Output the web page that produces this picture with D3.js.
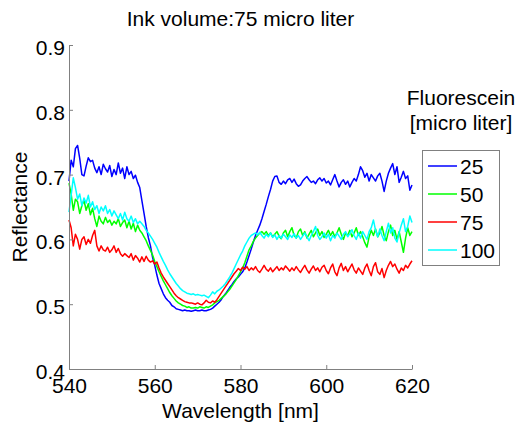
<!DOCTYPE html>
<html>
<head>
<meta charset="utf-8">
<script src="https://cdn.jsdelivr.net/npm/d3@7"></script>
<style>
  html, body { margin: 0; padding: 0; background: #fff; }
  svg { display: block; }
  text { font-family: "Liberation Sans", Arial, Helvetica, sans-serif; }
</style>
</head>
<body>
<svg id="chart" width="519" height="429"></svg>
<script>
// ---------------- DATA ----------------
const title = "Ink volume:75 micro liter";
const xLabel = "Wavelength [nm]";
const yLabel = "Reflectance";
const legendTitle = ["Fluorescein", "[micro liter]"];
const seriesNames = ["25", "50", "75", "100"];
const seriesColors = ["#0000ff", "#00ff00", "#ff0000", "#00ffff"];
const xTicks = [540, 560, 580, 600, 620];
const yTicks = [0.4, 0.5, 0.6, 0.7, 0.8, 0.9];
// wavelengths 540..620 nm, step 0.5 nm
const wavelength = d3.range(0, 161).map(i => 540 + i * 0.5);

const series25 = [
0.690,0.722,0.712,0.740,0.745,0.725,0.700,0.698,0.713,0.726,
0.720,0.722,0.710,0.703,0.712,0.700,0.716,0.709,0.704,0.714,
0.697,0.708,0.700,0.718,0.702,0.710,0.694,0.712,0.700,0.705,
0.694,0.699,0.688,0.680,0.660,0.640,0.620,0.603,0.590,0.572,
0.560,0.545,0.532,0.524,0.516,0.510,0.506,0.503,0.498,0.496,
0.493,0.492,0.491,0.490,0.491,0.490,0.490,0.489,0.490,0.491,
0.490,0.490,0.491,0.490,0.490,0.491,0.492,0.494,0.497,0.500,
0.503,0.507,0.512,0.516,0.521,0.526,0.530,0.535,0.539,0.542,
0.546,0.550,0.556,0.565,0.575,0.585,0.596,0.606,0.614,0.622,
0.632,0.643,0.654,0.666,0.677,0.690,0.697,0.698,0.688,0.685,
0.690,0.686,0.692,0.694,0.688,0.693,0.686,0.682,0.684,0.690,
0.694,0.697,0.692,0.688,0.690,0.686,0.692,0.695,0.690,0.694,
0.687,0.690,0.684,0.692,0.700,0.690,0.681,0.688,0.692,0.685,
0.690,0.681,0.688,0.694,0.690,0.700,0.712,0.706,0.696,0.702,
0.690,0.700,0.695,0.690,0.698,0.702,0.690,0.674,0.690,0.702,
0.710,0.717,0.700,0.712,0.688,0.696,0.705,0.694,0.698,0.676,
0.684];

const series50 = [
0.687,0.670,0.645,0.662,0.658,0.640,0.652,0.660,0.645,0.655,
0.638,0.648,0.632,0.620,0.636,0.628,0.624,0.634,0.626,0.630,
0.622,0.628,0.624,0.632,0.620,0.626,0.630,0.618,0.628,0.616,
0.625,0.612,0.622,0.614,0.610,0.604,0.598,0.590,0.583,0.576,
0.566,0.558,0.550,0.543,0.536,0.530,0.524,0.518,0.513,0.509,
0.505,0.502,0.500,0.498,0.497,0.495,0.496,0.494,0.494,0.495,
0.494,0.496,0.495,0.494,0.496,0.495,0.497,0.499,0.502,0.504,
0.506,0.509,0.512,0.515,0.519,0.523,0.528,0.533,0.538,0.544,
0.550,0.556,0.564,0.574,0.584,0.590,0.597,0.602,0.606,0.610,
0.612,0.608,0.612,0.606,0.610,0.604,0.608,0.612,0.605,0.601,
0.610,0.614,0.604,0.612,0.618,0.606,0.602,0.612,0.616,0.606,
0.612,0.602,0.608,0.614,0.604,0.610,0.616,0.606,0.612,0.603,
0.608,0.614,0.606,0.612,0.604,0.610,0.618,0.608,0.600,0.610,
0.606,0.614,0.604,0.610,0.618,0.606,0.612,0.604,0.595,0.588,
0.604,0.614,0.606,0.616,0.604,0.610,0.620,0.606,0.598,0.612,
0.622,0.606,0.614,0.600,0.612,0.596,0.580,0.602,0.618,0.606,
0.612];

const series75 = [
0.630,0.618,0.590,0.608,0.600,0.585,0.600,0.604,0.592,0.600,
0.594,0.606,0.614,0.590,0.582,0.590,0.584,0.582,0.588,0.580,
0.584,0.590,0.580,0.586,0.578,0.574,0.578,0.575,0.572,0.578,
0.568,0.575,0.571,0.565,0.573,0.566,0.574,0.568,0.565,0.567,
0.562,0.565,0.556,0.548,0.542,0.537,0.532,0.527,0.522,0.517,
0.513,0.510,0.508,0.506,0.504,0.503,0.502,0.502,0.501,0.500,
0.502,0.500,0.499,0.502,0.506,0.503,0.502,0.505,0.503,0.507,
0.512,0.517,0.522,0.527,0.532,0.537,0.542,0.547,0.551,0.555,
0.552,0.557,0.554,0.558,0.552,0.556,0.553,0.558,0.552,0.549,
0.554,0.560,0.554,0.551,0.556,0.550,0.554,0.558,0.552,0.556,
0.553,0.559,0.555,0.551,0.556,0.552,0.558,0.553,0.549,0.555,
0.560,0.553,0.548,0.554,0.559,0.552,0.556,0.550,0.557,0.560,
0.552,0.547,0.556,0.562,0.550,0.544,0.556,0.563,0.552,0.558,
0.550,0.556,0.562,0.553,0.548,0.556,0.551,0.546,0.556,0.562,
0.552,0.544,0.558,0.564,0.550,0.546,0.555,0.541,0.552,0.560,
0.566,0.558,0.562,0.554,0.548,0.556,0.552,0.560,0.556,0.562,
0.567];

const series100 = [
0.642,0.668,0.695,0.680,0.662,0.670,0.652,0.664,0.656,0.668,
0.650,0.658,0.646,0.652,0.640,0.650,0.644,0.652,0.640,0.646,
0.636,0.644,0.638,0.632,0.640,0.630,0.642,0.632,0.628,0.636,
0.626,0.632,0.624,0.628,0.624,0.620,0.614,0.610,0.605,0.600,
0.594,0.588,0.580,0.573,0.566,0.560,0.553,0.547,0.542,0.537,
0.532,0.528,0.524,0.521,0.519,0.517,0.516,0.515,0.516,0.514,
0.515,0.514,0.513,0.514,0.512,0.510,0.514,0.519,0.516,0.520,
0.522,0.525,0.528,0.532,0.537,0.542,0.548,0.555,0.562,0.569,
0.576,0.582,0.590,0.596,0.602,0.606,0.608,0.610,0.607,0.611,
0.606,0.602,0.608,0.604,0.610,0.603,0.607,0.600,0.606,0.602,
0.608,0.604,0.600,0.607,0.603,0.609,0.602,0.606,0.600,0.605,
0.610,0.604,0.598,0.606,0.612,0.620,0.606,0.600,0.604,0.610,
0.602,0.608,0.598,0.606,0.602,0.610,0.605,0.600,0.608,0.612,
0.604,0.609,0.615,0.606,0.600,0.610,0.602,0.612,0.606,0.600,
0.612,0.618,0.630,0.614,0.604,0.616,0.606,0.598,0.612,0.625,
0.610,0.618,0.602,0.596,0.610,0.622,0.632,0.612,0.620,0.636,
0.626];

const allSeries = [series25, series50, series75, series100];

// ---------------- CHART ----------------
const svg = d3.select("#chart");
const W = 519, H = 429;
const m = { left: 69, right: 412, top: 45, bottom: 369 };
const FONT = 21;
const axisColor = "#808080";

const x = d3.scaleLinear().domain([540, 620]).range([m.left, m.right]);
const y = d3.scaleLinear().domain([0.4, 0.9]).range([m.bottom, m.top]);

// series lines
const line = d3.line().x((d, i) => x(wavelength[i])).y(d => y(d));
svg.append("g").selectAll("path")
  .data(allSeries)
  .join("path")
  .attr("fill", "none")
  .attr("stroke", (d, i) => seriesColors[i])
  .attr("stroke-width", 1.5)
  .attr("stroke-linejoin", "round")
  .attr("d", d => line(d));

// axes
const xAxis = d3.axisBottom(x).tickValues(xTicks).tickSize(-4).tickSizeOuter(0).tickPadding(9)
  .tickFormat(d3.format("d"));
const gx = svg.append("g").attr("transform", `translate(0,${m.bottom})`).call(xAxis);
const yAxis = d3.axisLeft(y).tickValues(yTicks).tickSize(-4).tickSizeOuter(0).tickPadding(4)
  .tickFormat(d3.format(".1f"));
const gy = svg.append("g").attr("transform", `translate(${m.left},0)`).call(yAxis);
[gx, gy].forEach(g => {
  g.select(".domain").attr("stroke", axisColor);
  g.selectAll(".tick line").attr("stroke", axisColor);
  g.selectAll(".tick text").attr("fill", "#000").style("font-size", FONT + "px")
    .style("font-family", '"Liberation Sans", Arial, sans-serif');
});
gy.selectAll(".tick text").attr("dy", "0.45em");

// title & labels
svg.append("text").attr("x", (m.left + m.right) / 2).attr("y", 26)
  .attr("text-anchor", "middle").style("font-size", FONT + "px").text(title);
svg.append("text").attr("x", (m.left + m.right) / 2).attr("y", 418)
  .attr("text-anchor", "middle").style("font-size", FONT + "px").text(xLabel);
svg.append("text").attr("transform", `translate(27,${(m.top + m.bottom) / 2}) rotate(-90)`)
  .attr("text-anchor", "middle").style("font-size", FONT + "px").text(yLabel);

// legend
const lg = svg.append("g");
lg.selectAll("text.lt").data(legendTitle).join("text").attr("class", "lt")
  .attr("x", 461).attr("y", (d, i) => 105 + i * 25)
  .attr("text-anchor", "middle").style("font-size", FONT + "px").text(d => d);
lg.append("rect").attr("x", 422.5).attr("y", 150.5).attr("width", 77).attr("height", 115)
  .attr("fill", "#fff").attr("stroke", axisColor).attr("stroke-width", 1);
const entries = lg.selectAll("g.e").data(seriesNames).join("g").attr("class", "e")
  .attr("transform", (d, i) => `translate(0,${166 + i * 28})`);
entries.append("line").attr("x1", 428).attr("x2", 457).attr("y1", 0).attr("y2", 0)
  .attr("stroke", (d, i) => seriesColors[i]).attr("stroke-width", 1.5);
entries.append("text").attr("x", 460).attr("y", 7.5).style("font-size", FONT + "px").text(d => d);
</script>
</body>
</html>
